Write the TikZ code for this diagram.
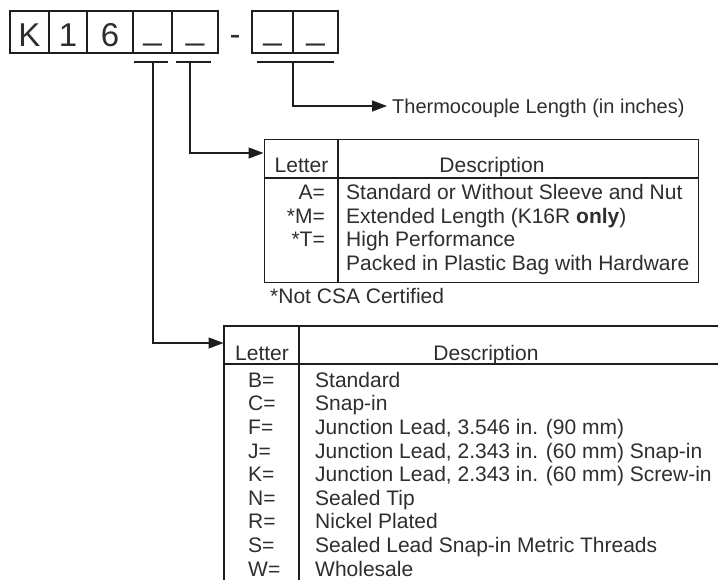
\documentclass[tikz,border=0pt]{standalone}
\usepackage{fontspec}
\setmainfont{Liberation Sans}
\usetikzlibrary{arrows.meta}
\definecolor{ink}{HTML}{1E1E1E}
\definecolor{txt}{HTML}{2E2E2E}
\begin{document}
\begin{tikzpicture}[x=1pt,y=-1pt,
  rule/.style={draw=ink, line width=1.3pt},
  conn/.style={draw=ink, line width=1.2pt},
  arr/.style={conn, -{Triangle[length=15pt,width=11pt]}},
  digitbox/.style={draw=ink, line width=1.3pt, minimum height=42pt, inner sep=0pt,
    text height=28pt, text depth=0pt, text=txt, font=\fontsize{33}{33}\selectfont},
  big/.style={text=txt, inner sep=0pt, font=\fontsize{33}{33}\selectfont},
  cell/.style={text=txt, inner sep=0pt, font=\fontsize{21}{24}\selectfont},
  cellb/.style={text=txt, inner sep=0pt, font=\fontsize{20}{24}\selectfont},
  tablebox/.style={draw=ink, line width=1.3pt, inner sep=0pt, anchor=north west}
]
\clip (0,0) rectangle (718,579);
\fill[white] (0,0) rectangle (718,579);

% ---- part number boxes ----
\node[digitbox, minimum width=39pt] (bK) at (29.5,32) {K};
\node[digitbox, minimum width=38pt] (b1) at (68,32) {1};
\node[digitbox, minimum width=46pt] (b6) at (110,32) {6};
\node[digitbox, minimum width=39pt] (bA) at (152.5,32) {\raisebox{0.19em}{\_}};
\node[digitbox, minimum width=46pt] (bB) at (195,32) {\raisebox{0.19em}{\_}};
\node[big, anchor=base] (dash) at (235,45) {-};
\node[digitbox, minimum width=41pt] (bC) at (272.5,32) {\raisebox{0.19em}{\_}};
\node[digitbox, minimum width=45pt] (bD) at (315.5,32) {\raisebox{0.19em}{\_}};

% ---- underline brackets ----
\coordinate (uAl) at (134,62); \coordinate (uAr) at (168,62);
\coordinate (uBl) at (176,62); \coordinate (uBr) at (211,62);
\coordinate (uCl) at (257,62); \coordinate (uCr) at (334,62);
\draw[conn] (uAl) -- (uAr);
\draw[conn] (uBl) -- (uBr);
\draw[conn] (uCl) -- (uCr);
\coordinate (uA) at (153,62);
\coordinate (uB) at (190,62);
\coordinate (uC) at (293,62);

% ---- length label ----
\node[cellb, anchor=base west] (len) at (392,113) {Thermocouple Length (in inches)};
\coordinate (lenin) at (387,106);
\draw[arr] (uC) |- (lenin);

% ---- table 1 ----
\node[tablebox, minimum width=434pt, minimum height=143pt] (t1) at (264,139) {};
\coordinate (t1in) at (263.5,153);
\draw[arr] (uB) |- (t1in);
\draw[rule] (338,139) -- (338,282);
\draw[rule] (264,178) -- (698,178);
\node[cell, anchor=base] (t1h1) at (301.5,172) {Letter};
\node[cell, anchor=base] (t1h2) at (492,172) {Description};
\node[cell, anchor=base east] (t1l1) at (325,199.5) {A=};
\node[cell, anchor=base east] (t1l2) at (325,223) {*M=};
\node[cell, anchor=base east] (t1l3) at (325,246.6) {*T=};
\node[cell, anchor=base west] (t1d1) at (346,199.5) {Standard or Without Sleeve and Nut};
\node[cell, anchor=base west] (t1d2) at (346,223) {Extended Length (K16R \textbf{only})};
\node[cell, anchor=base west] (t1d3) at (346,246.6) {High Performance};
\node[cell, anchor=base west] (t1d4) at (346,270) {Packed in Plastic Bag with Hardware};
\node[cell, anchor=base west] (note) at (270,303) {*Not CSA Certified};

% ---- table 2 ----
\coordinate (t2in) at (223.5,343);
\draw[arr] (uA) |- (t2in);
\draw[rule] (224,600) -- (224,326) -- (740,326);
\draw[rule] (224,364) -- (740,364);
\draw[rule] (299,326) -- (299,600);
\node[cell, anchor=base] (t2h1) at (262,360) {Letter};
\node[cell, anchor=base] (t2h2) at (486,360) {Description};
\foreach \i/\l/\d in {0/B=/Standard, 1/C=/Snap-in,
  2/F=/{Junction Lead, 3.546 in. (90 mm)},
  3/J=/{Junction Lead, 2.343 in. (60 mm) Snap-in},
  4/K=/{Junction Lead, 2.343 in. (60 mm) Screw-in},
  5/N=/Sealed Tip, 6/R=/Nickel Plated,
  7/S=/Sealed Lead Snap-in Metric Threads, 8/W=/Wholesale}{
  \node[cell, anchor=base west] (t2l\i) at (248,387.3+23.6*\i) {\l};
  \node[cell, anchor=base west] (t2d\i) at (315,387.3+23.6*\i) {\d};
}
\end{tikzpicture}
\end{document}
